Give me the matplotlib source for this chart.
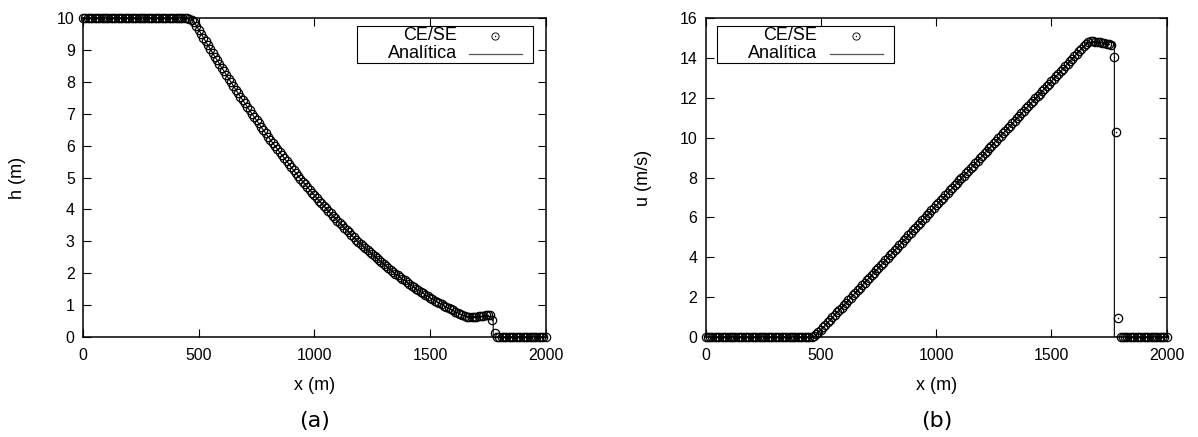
import matplotlib
matplotlib.use('Agg')
import matplotlib.pyplot as plt
from matplotlib.patches import Rectangle

# ---------------- data ----------------
x_num = [
    0, 10, 20, 30, 40, 50, 60, 70, 80, 90,
    100, 110, 120, 130, 140, 150, 160, 170, 180, 190,
    200, 210, 220, 230, 240, 250, 260, 270, 280, 290,
    300, 310, 320, 330, 340, 350, 360, 370, 380, 390,
    400, 410, 420, 430, 440, 450, 460, 470, 480, 490,
    500, 510, 520, 530, 540, 550, 560, 570, 580, 590,
    600, 610, 620, 630, 640, 650, 660, 670, 680, 690,
    700, 710, 720, 730, 740, 750, 760, 770, 780, 790,
    800, 810, 820, 830, 840, 850, 860, 870, 880, 890,
    900, 910, 920, 930, 940, 950, 960, 970, 980, 990,
    1000, 1010, 1020, 1030, 1040, 1050, 1060, 1070, 1080, 1090,
    1100, 1110, 1120, 1130, 1140, 1150, 1160, 1170, 1180, 1190,
    1200, 1210, 1220, 1230, 1240, 1250, 1260, 1270, 1280, 1290,
    1300, 1310, 1320, 1330, 1340, 1350, 1360, 1370, 1380, 1390,
    1400, 1410, 1420, 1430, 1440, 1450, 1460, 1470, 1480, 1490,
    1500, 1510, 1520, 1530, 1540, 1550, 1560, 1570, 1580, 1590,
    1600, 1610, 1620, 1630, 1640, 1650, 1660, 1670, 1680, 1690,
    1700, 1710, 1720, 1730, 1740, 1750, 1760, 1770, 1780, 1790,
    1800, 1810, 1820, 1830, 1840, 1850, 1860, 1870, 1880, 1890,
    1900, 1910, 1920, 1930, 1940, 1950, 1960, 1970, 1980, 1990,
    2000,
]

h_num = [
    10.0, 10.0, 10.0, 10.0, 10.0, 10.0, 10.0, 10.0, 10.0, 10.0,
    10.0, 10.0, 10.0, 10.0, 10.0, 10.0, 10.0, 10.0, 10.0, 10.0,
    10.0, 10.0, 10.0, 10.0, 10.0, 10.0, 10.0, 10.0, 10.0, 10.0,
    10.0, 10.0, 10.0, 10.0, 10.0, 10.0, 10.0, 10.0, 10.0, 10.0,
    10.0, 10.0, 10.0, 10.0, 10.0, 9.99, 9.97, 9.93, 9.85, 9.75,
    9.63, 9.50, 9.38, 9.26, 9.14, 9.02, 8.90, 8.78, 8.67, 8.55,
    8.43, 8.32, 8.20, 8.09, 7.98, 7.87, 7.75, 7.64, 7.53, 7.43,
    7.32, 7.21, 7.10, 7.00, 6.89, 6.79, 6.69, 6.58, 6.48, 6.38,
    6.28, 6.18, 6.08, 5.99, 5.89, 5.79, 5.70, 5.60, 5.51, 5.42,
    5.32, 5.23, 5.14, 5.05, 4.96, 4.87, 4.79, 4.70, 4.61, 4.53,
    4.45, 4.36, 4.28, 4.20, 4.12, 4.04, 3.96, 3.88, 3.80, 3.72,
    3.65, 3.57, 3.50, 3.42, 3.35, 3.28, 3.20, 3.13, 3.06, 2.99,
    2.93, 2.86, 2.79, 2.73, 2.66, 2.60, 2.53, 2.47, 2.41, 2.35,
    2.29, 2.23, 2.17, 2.11, 2.05, 1.99, 1.94, 1.88, 1.83, 1.78,
    1.72, 1.67, 1.62, 1.57, 1.52, 1.47, 1.42, 1.38, 1.33, 1.29,
    1.24, 1.20, 1.15, 1.11, 1.07, 1.03, 0.99, 0.95, 0.91, 0.87,
    0.84, 0.80, 0.77, 0.73, 0.70, 0.67, 0.65, 0.64, 0.64, 0.645,
    0.65, 0.655, 0.665, 0.68, 0.70, 0.71, 0.70, 0.54, 0.12, 0.02,
    0.0, 0.0, 0.0, 0.0, 0.0, 0.0, 0.0, 0.0, 0.0, 0.0,
    0.0, 0.0, 0.0, 0.0, 0.0, 0.0, 0.0, 0.0, 0.0, 0.0,
    0.0,
]

u_num = [
    0.0, 0.0, 0.0, 0.0, 0.0, 0.0, 0.0, 0.0, 0.0, 0.0,
    0.0, 0.0, 0.0, 0.0, 0.0, 0.0, 0.0, 0.0, 0.0, 0.0,
    0.0, 0.0, 0.0, 0.0, 0.0, 0.0, 0.0, 0.0, 0.0, 0.0,
    0.0, 0.0, 0.0, 0.0, 0.0, 0.0, 0.0, 0.0, 0.0, 0.0,
    0.0, 0.0, 0.0, 0.0, 0.0, 0.01, 0.03, 0.07, 0.15, 0.26,
    0.37, 0.50, 0.62, 0.75, 0.87, 1.00, 1.12, 1.25, 1.37, 1.49,
    1.62, 1.74, 1.87, 1.99, 2.12, 2.24, 2.37, 2.49, 2.62, 2.74,
    2.86, 2.99, 3.11, 3.24, 3.36, 3.49, 3.61, 3.74, 3.86, 3.98,
    4.11, 4.23, 4.36, 4.48, 4.61, 4.73, 4.86, 4.98, 5.11, 5.23,
    5.35, 5.48, 5.60, 5.73, 5.85, 5.98, 6.10, 6.23, 6.35, 6.48,
    6.60, 6.72, 6.85, 6.97, 7.10, 7.22, 7.35, 7.47, 7.60, 7.72,
    7.85, 7.97, 8.09, 8.22, 8.34, 8.47, 8.59, 8.72, 8.84, 8.97,
    9.09, 9.22, 9.34, 9.46, 9.59, 9.71, 9.84, 9.96, 10.09, 10.21,
    10.34, 10.46, 10.59, 10.71, 10.83, 10.96, 11.08, 11.21, 11.33, 11.46,
    11.58, 11.71, 11.83, 11.96, 12.08, 12.20, 12.33, 12.45, 12.58, 12.70,
    12.83, 12.95, 13.08, 13.20, 13.33, 13.45, 13.57, 13.70, 13.82, 13.95,
    14.07, 14.20, 14.31, 14.44, 14.58, 14.70, 14.78, 14.81, 14.81, 14.80,
    14.78, 14.76, 14.74, 14.72, 14.70, 14.68, 14.64, 14.05, 10.30, 0.98,
    0.0, 0.0, 0.0, 0.0, 0.0, 0.0, 0.0, 0.0, 0.0, 0.0,
    0.0, 0.0, 0.0, 0.0, 0.0, 0.0, 0.0, 0.0, 0.0, 0.0,
    0.0,
]

x_ana = [
    0, 470, 480, 490,
    500, 510, 520, 530, 540, 550, 560, 570, 580, 590,
    600, 610, 620, 630, 640, 650, 660, 670, 680, 690,
    700, 710, 720, 730, 740, 750, 760, 770, 780, 790,
    800, 810, 820, 830, 840, 850, 860, 870, 880, 890,
    900, 910, 920, 930, 940, 950, 960, 970, 980, 990,
    1000, 1010, 1020, 1030, 1040, 1050, 1060, 1070, 1080, 1090,
    1100, 1110, 1120, 1130, 1140, 1150, 1160, 1170, 1180, 1190,
    1200, 1210, 1220, 1230, 1240, 1250, 1260, 1270, 1280, 1290,
    1300, 1310, 1320, 1330, 1340, 1350, 1360, 1370, 1380, 1390,
    1400, 1410, 1420, 1430, 1440, 1450, 1460, 1470, 1480, 1490,
    1500, 1510, 1520, 1530, 1540, 1550, 1560, 1570, 1580, 1590,
    1600, 1610, 1620, 1630, 1640, 1650, 1655, 1773, 1773, 2000,
]

h_ana = [
    10.0, 10.0, 9.88, 9.75,
    9.63, 9.50, 9.38, 9.26, 9.14, 9.02, 8.90, 8.78, 8.67, 8.55,
    8.43, 8.32, 8.20, 8.09, 7.98, 7.87, 7.75, 7.64, 7.53, 7.43,
    7.32, 7.21, 7.10, 7.00, 6.89, 6.79, 6.69, 6.58, 6.48, 6.38,
    6.28, 6.18, 6.08, 5.99, 5.89, 5.79, 5.70, 5.60, 5.51, 5.42,
    5.32, 5.23, 5.14, 5.05, 4.96, 4.87, 4.79, 4.70, 4.61, 4.53,
    4.45, 4.36, 4.28, 4.20, 4.12, 4.04, 3.96, 3.88, 3.80, 3.72,
    3.65, 3.57, 3.50, 3.42, 3.35, 3.28, 3.20, 3.13, 3.06, 2.99,
    2.93, 2.86, 2.79, 2.73, 2.66, 2.60, 2.53, 2.47, 2.41, 2.35,
    2.29, 2.23, 2.17, 2.11, 2.05, 1.99, 1.94, 1.88, 1.83, 1.78,
    1.72, 1.67, 1.62, 1.57, 1.52, 1.47, 1.42, 1.38, 1.33, 1.29,
    1.24, 1.20, 1.15, 1.11, 1.07, 1.03, 0.99, 0.95, 0.91, 0.87,
    0.84, 0.80, 0.77, 0.73, 0.70, 0.67, 0.65, 0.65, 0.0, 0.0,
]

u_ana = [
    0.0, 0.0, 0.12, 0.25,
    0.37, 0.50, 0.62, 0.75, 0.87, 1.00, 1.12, 1.25, 1.37, 1.49,
    1.62, 1.74, 1.87, 1.99, 2.12, 2.24, 2.37, 2.49, 2.62, 2.74,
    2.86, 2.99, 3.11, 3.24, 3.36, 3.49, 3.61, 3.74, 3.86, 3.98,
    4.11, 4.23, 4.36, 4.48, 4.61, 4.73, 4.86, 4.98, 5.11, 5.23,
    5.35, 5.48, 5.60, 5.73, 5.85, 5.98, 6.10, 6.23, 6.35, 6.48,
    6.60, 6.72, 6.85, 6.97, 7.10, 7.22, 7.35, 7.47, 7.60, 7.72,
    7.85, 7.97, 8.09, 8.22, 8.34, 8.47, 8.59, 8.72, 8.84, 8.97,
    9.09, 9.22, 9.34, 9.46, 9.59, 9.71, 9.84, 9.96, 10.09, 10.21,
    10.34, 10.46, 10.59, 10.71, 10.83, 10.96, 11.08, 11.21, 11.33, 11.46,
    11.58, 11.71, 11.83, 11.96, 12.08, 12.20, 12.33, 12.45, 12.58, 12.70,
    12.83, 12.95, 13.08, 13.20, 13.33, 13.45, 13.57, 13.70, 13.82, 13.95,
    14.07, 14.20, 14.33, 14.45, 14.58, 14.70, 14.76, 14.76, 0.0, 0.0,
]

x_ticks = [0, 500, 1000, 1500, 2000]
h_ticks = [0, 1, 2, 3, 4, 5, 6, 7, 8, 9, 10]
u_ticks = [0, 2, 4, 6, 8, 10, 12, 14, 16]
series_labels = ['CE/SE', 'Analítica']

# ---------------- styling ----------------
plt.rcParams['font.family'] = ['Liberation Sans', 'DejaVu Sans']

W, H = 1198, 437
fig = plt.figure(figsize=(W / 100, H / 100), dpi=100)
axL = fig.add_axes([83 / W, (H - 337.3) / H, 462.7 / W, 319.6 / H])
axR = fig.add_axes([705.5 / W, (H - 337.3) / H, 461.2 / W, 319.6 / H])

TICK_FS = 11.4
LABEL_FS = 13
LEG_FS = 13
MS = 6.0
MEW = 0.9


def draw(ax, y_num, y_ana, ylabel, yticks, ylim, leg_box, txt_x, line_x0, line_x1, ylab_x):
    ax.plot(x_num, y_num, linestyle='none', marker='o', ms=MS, mfc='none',
            mec='black', mew=MEW, zorder=2, clip_on=False)
    ax.plot(x_num, y_num, linestyle='none', marker='o', ms=1.1, mfc='black',
            mec='none', zorder=2, clip_on=False)
    ax.plot(x_ana, y_ana, color='black', lw=0.8, zorder=3)
    ax.set_xlim(0, 2000)
    ax.set_ylim(*ylim)
    ax.set_xticks(x_ticks)
    ax.set_yticks(yticks)
    for s in ax.spines.values():
        s.set_linewidth(1.1)
    ax.tick_params(direction='in', top=True, right=True, length=5.5, width=0.8,
                   labelsize=TICK_FS)
    ax.tick_params(axis='x', pad=7.5)
    ax.tick_params(axis='y', pad=6)
    ax.set_xlabel('x (m)', fontsize=LABEL_FS)
    ax.xaxis.set_label_coords(0.5, (337.3 - 385) / 319.6)
    ax.xaxis.label.set_va('center')
    ax.set_ylabel(ylabel, fontsize=LABEL_FS)
    ax.yaxis.set_label_coords(ylab_x, 0.5)
    ax.yaxis.label.set_va('center')

    # legend box (gnuplot style: text right-aligned, sample on the right)
    bx0, bx1, by0, by1 = leg_box
    ax.add_patch(Rectangle((bx0, by0), bx1 - bx0, by1 - by0, transform=ax.transAxes,
                           fill=True, facecolor='white', edgecolor='black', lw=0.8,
                           zorder=5, clip_on=False))
    row1 = 1 - (36 - 17.7) / 319.6
    row2 = 1 - (54 - 17.7) / 319.6
    ax.text(txt_x, row1, series_labels[0], transform=ax.transAxes, ha='right',
            va='center', fontsize=LEG_FS, zorder=6)
    ax.text(txt_x, row2, series_labels[1], transform=ax.transAxes, ha='right',
            va='center', fontsize=LEG_FS, zorder=6)
    mx = (line_x0 + line_x1) / 2
    ax.plot([mx], [row1], transform=ax.transAxes, linestyle='none', marker='o',
            ms=5.2, mfc='none', mec='black', mew=0.65, zorder=6, clip_on=False)
    ax.plot([mx], [row1], transform=ax.transAxes, linestyle='none', marker='o',
            ms=1.0, mfc='black', mec='none', zorder=6, clip_on=False)
    ax.plot([line_x0, line_x1], [row2, row2], transform=ax.transAxes,
            color='#555555', lw=0.9, zorder=6, clip_on=False)


leg_top = 1 - (26 - 17.7) / 319.6
leg_bot = 1 - (63 - 17.7) / 319.6
draw(axL, h_num, h_ana, 'h (m)', h_ticks, (0, 10),
     ((357 - 83) / 462.7, (533 - 83) / 462.7, leg_bot, leg_top),
     (457 - 83) / 462.7, (469 - 83) / 462.7, (522 - 83) / 462.7,
     (17.5 - 83) / 462.7)
draw(axR, u_num, u_ana, 'u (m/s)', u_ticks, (0, 16),
     ((717 - 705.5) / 461.2, (894 - 705.5) / 461.2, leg_bot, leg_top),
     (817.3 - 705.5) / 461.2, (830 - 705.5) / 461.2, (882.7 - 705.5) / 461.2,
     (643 - 705.5) / 461.2)

fig.text(314.4 / W, 1 - 421 / H, '(a)', ha='center', va='center', fontsize=16,
         family='DejaVu Sans')
fig.text(936.5 / W, 1 - 421 / H, '(b)', ha='center', va='center', fontsize=16,
         family='DejaVu Sans')

fig.savefig('out.png', dpi=100)
